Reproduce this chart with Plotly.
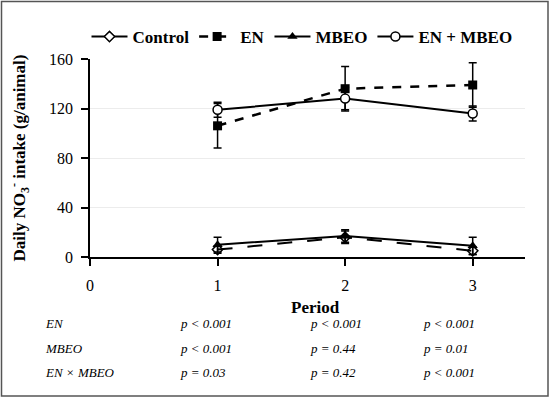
import plotly.graph_objects as go

periods = [1, 2, 3]
control = [6, 16, 5]
control_err = [3, 5, 3]
en = [106, 136, 139]
en_err = [18, 18, 18]
mbeo = [10, 17, 9]
mbeo_err = [6, 5, 7]
en_mbeo = [119, 128, 116]
en_mbeo_err = [6, 9, 6]

row_labels = ["EN", "MBEO", "EN × MBEO"]
p_values = [
    ["p < 0.001", "p < 0.001", "p < 0.001"],
    ["p < 0.001", "p = 0.44", "p = 0.01"],
    ["p = 0.03", "p = 0.42", "p < 0.001"],
]

FONT = "Liberation Serif, Times New Roman, serif"
fig = go.Figure()

def err(vals):
    return dict(type="data", array=vals, visible=True, color="black", thickness=1.5, width=4)

# Control: dashed line in plot, legend entry drawn solid
fig.add_trace(go.Scatter(x=periods, y=control, mode="lines+markers", showlegend=False,
                         line=dict(color="black", width=2, dash="longdash"),
                         marker=dict(symbol="diamond-open", size=8, color="black", line=dict(width=1.5)),
                         error_y=err(control_err)))
fig.add_trace(go.Scatter(x=[None], y=[None], mode="lines+markers", name="Control",
                         line=dict(color="black", width=2),
                         marker=dict(symbol="diamond", size=8, color="white", line=dict(width=1.5, color="black"))))
fig.add_trace(go.Scatter(x=periods, y=en, mode="lines+markers", name="EN",
                         line=dict(color="black", width=2.5, dash="dash"),
                         marker=dict(symbol="square", size=9, color="black"),
                         error_y=err(en_err)))
fig.add_trace(go.Scatter(x=periods, y=mbeo, mode="lines+markers", name="MBEO",
                         line=dict(color="black", width=2),
                         marker=dict(symbol="triangle-up", size=9, color="black"),
                         error_y=err(mbeo_err)))
fig.add_trace(go.Scatter(x=periods, y=en_mbeo, mode="lines+markers", name="EN + MBEO",
                         line=dict(color="black", width=2),
                         marker=dict(symbol="circle", size=9, color="white", line=dict(width=1.5, color="black")),
                         error_y=err(en_mbeo_err)))

# plot area: left=90, right=525, top=59, bottom=257 (px)
W, H = 435.0, 198.0
def px(xp):
    return (xp - 90) / W
def py(yp):
    return (257 - yp) / H

annotations = []
col_x = [px(178), px(308), px(421)]
row_y = [py(323), py(348), py(372)]
for i, lab in enumerate(row_labels):
    annotations.append(dict(x=px(43), y=row_y[i], xref="paper", yref="paper", text=f"<i>{lab}</i>",
                            showarrow=False, xanchor="left", yanchor="middle",
                            font=dict(family=FONT, size=13, color="black")))
    for j in range(3):
        annotations.append(dict(x=col_x[j], y=row_y[i], xref="paper", yref="paper",
                                text=f"<i>{p_values[i][j]}</i>",
                                showarrow=False, xanchor="left", yanchor="middle",
                                font=dict(family=FONT, size=13, color="black")))
annotations.append(dict(x=px(315), y=py(307), xref="paper", yref="paper", text="<b>Period</b>",
                        showarrow=False, xanchor="center", yanchor="middle",
                        font=dict(family=FONT, size=17, color="black")))

fig.update_layout(
    width=550, height=398,
    margin=dict(l=90, r=25, t=59, b=141, autoexpand=False),
    paper_bgcolor="white", plot_bgcolor="white",
    font=dict(family=FONT, color="black"),
    legend=dict(orientation="h", x=px(302), xanchor="center", y=py(37), yanchor="middle",
                font=dict(family=FONT, size=17, color="black", weight="bold"),
                itemwidth=36, tracegroupgap=0, bgcolor="rgba(0,0,0,0)"),
    annotations=annotations,
    shapes=[dict(type="rect", xref="paper", yref="paper",
                 x0=px(1.5), x1=px(548), y0=py(396), y1=py(1.5),
                 line=dict(color="#555555", width=1.5), fillcolor="rgba(0,0,0,0)", layer="below")],
)
fig.update_xaxes(range=[0, 3.41], tickvals=[0, 1, 2, 3], showgrid=False, zeroline=False,
                 showline=True, linecolor="black", linewidth=1.5, automargin=False,
                 ticks="outside", ticklen=7, tickwidth=1.5, tickcolor="black", ticklabelstandoff=6,
                 tickfont=dict(family=FONT, size=16, color="black"))
fig.update_yaxes(range=[0, 160], tickvals=[0, 40, 80, 120, 160], showgrid=True, gridcolor="#ececec",
                 gridwidth=1, zeroline=False, showline=True, linecolor="black", linewidth=1.5,
                 automargin=False,
                 ticks="outside", ticklen=7, tickwidth=1.5, tickcolor="black", ticklabelstandoff=5,
                 tickfont=dict(family=FONT, size=16, color="black"),
                 title=dict(text="<b>Daily NO<sub>3</sub><sup>-</sup> intake (g/animal)</b>",
                            font=dict(family=FONT, size=17, color="black"), standoff=19))

fig.write_html("out.html", config={"displayModeBar": False},
               post_script="document.body.style.margin='0';document.body.style.overflow='hidden';")
